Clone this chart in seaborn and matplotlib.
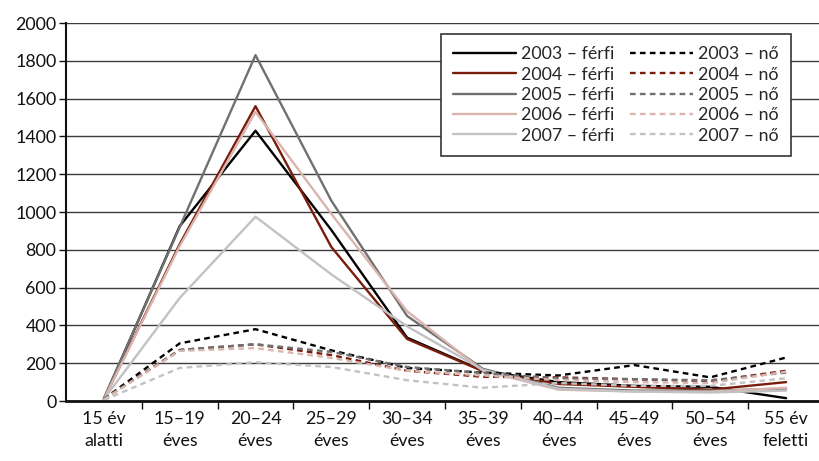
import matplotlib
matplotlib.use("Agg")
import matplotlib.pyplot as plt
import numpy as np
import pandas as pd
import seaborn as sns

# Age groups on the x axis
categories = ["15 év\nalatti", "15–19\néves", "20–24\néves", "25–29\néves",
              "30–34\néves", "35–39\néves", "40–44\néves", "45–49\néves",
              "50–54\néves", "55 év\nfeletti"]
years = ["2003", "2004", "2005", "2006", "2007"]

# Male counts per age group
men_2003 = [10, 925, 1430, 905, 335, 160, 100, 80, 75, 15]
men_2004 = [10, 830, 1560, 815, 328, 158, 90, 75, 60, 100]
men_2005 = [15, 920, 1830, 1060, 450, 170, 70, 55, 55, 65]
men_2006 = [10, 820, 1530, 990, 475, 160, 60, 50, 50, 70]
men_2007 = [10, 545, 975, 670, 395, 165, 65, 50, 45, 55]

# Female counts per age group
women_2003 = [10, 305, 380, 268, 175, 150, 135, 190, 125, 230]
women_2004 = [10, 270, 300, 243, 160, 128, 125, 115, 105, 160]
women_2005 = [10, 270, 300, 260, 180, 148, 120, 115, 110, 150]
women_2006 = [8, 265, 280, 228, 160, 135, 110, 100, 95, 155]
women_2007 = [5, 175, 205, 180, 110, 70, 95, 80, 80, 120]

men = [men_2003, men_2004, men_2005, men_2006, men_2007]
women = [women_2003, women_2004, women_2005, women_2006, women_2007]
colors = ["#000000", "#7a1c0c", "#707070", "#d9b5ae", "#c2c2c4"]

sns.set_style("ticks")
plt.rcParams["font.family"] = ["Lato", "DejaVu Sans"]

FS = 12.8

fig = plt.figure(figsize=(8.19, 4.61), dpi=100)
ax = fig.add_axes([66 / 819, 60 / 461, 758 / 819, 378 / 461])

x = np.arange(len(categories))
handles_m, handles_w = [], []
for yr, vals, col in zip(years, men, colors):
    df = pd.DataFrame({"x": x, "y": vals})
    sns.lineplot(data=df, x="x", y="y", ax=ax, color=col, lw=1.7,
                 label=f"{yr} – férfi", legend=False)
    handles_m.append(ax.lines[-1])
for yr, vals, col in zip(years, women, colors):
    df = pd.DataFrame({"x": x, "y": vals})
    sns.lineplot(data=df, x="x", y="y", ax=ax, color=col, lw=1.7,
                 label=f"{yr} – nő", legend=False)
    ax.lines[-1].set_linestyle((0, (2.4, 1.8)))
    handles_w.append(ax.lines[-1])

ax.set_xlim(-0.5, 9.5)
ax.set_ylim(0, 2000)
ax.set_yticks(np.arange(0, 2001, 200))
ax.set_xticks(x)
ax.set_xticklabels(categories)
ax.set_xticks(np.arange(0.5, 9.5, 1), minor=True)
ax.tick_params(axis="x", which="major", length=0, pad=7, labelsize=FS,
               colors="#111111")
ax.tick_params(axis="x", which="minor", length=6, width=1, color="#111111",
               direction="out")
ax.tick_params(axis="y", length=5, width=1, color="#111111", labelsize=FS,
               pad=2, colors="#111111")
for lbl in ax.get_xticklabels():
    lbl.set_linespacing(1.45)

ax.set_xlabel("")
ax.set_ylabel("")
ax.grid(axis="y", color="#3c3c3c", lw=1)
ax.set_axisbelow(True)
for side in ["top", "right"]:
    ax.spines[side].set_visible(False)
ax.spines["left"].set_color("#111111")
ax.spines["left"].set_linewidth(1.5)
ax.spines["bottom"].set_color("#111111")
ax.spines["bottom"].set_linewidth(2)

leg = ax.legend(handles_m + handles_w,
                [h.get_label() for h in handles_m + handles_w],
                ncol=2, loc="upper right",
                bbox_to_anchor=(791 / 819, 1 - 34 / 461),
                bbox_transform=fig.transFigure,
                fontsize=FS, frameon=True, fancybox=False,
                handlelength=3.5, handletextpad=0.3, columnspacing=0.9,
                labelspacing=0.24, borderpad=0.7, borderaxespad=0,
                framealpha=1)
leg.get_frame().set_edgecolor("#333333")
leg.get_frame().set_linewidth(1.2)

fig.savefig("out.png", dpi=100)
